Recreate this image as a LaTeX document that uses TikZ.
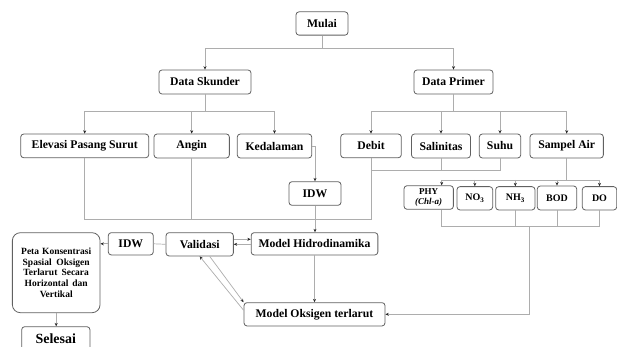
\documentclass[tikz,border=0pt]{standalone}
\usepackage{fontspec}
\setmainfont{Liberation Serif}
\usetikzlibrary{arrows.meta,calc}
\definecolor{boxc}{gray}{0.38}
\definecolor{connc}{gray}{0.68}
\definecolor{tipc}{gray}{0.15}
\begin{document}
\begin{tikzpicture}[x=1pt,y=-1pt,
 box/.style={draw=boxc,line width=0.8pt,rounded corners=3pt,fill=white,inner sep=0pt,
   font=\fontsize{11.7}{13}\selectfont\bfseries,align=center},
 small/.style={box,font=\fontsize{10}{11}\selectfont\bfseries},
 conn/.style={draw=connc,line width=0.7pt},
 arr/.style={-{Stealth[length=3.4pt,width=3pt,color=tipc]}}]
\useasboundingbox (0,0) rectangle (617,347);
\clip (0,0) rectangle (617,347);

% nodes
\node[box,minimum width=52pt,minimum height=23.3pt] (mulai) at (322,23.5) {Mulai};
\node[box,minimum width=92pt,minimum height=24pt] (dsk) at (205,82) {Data Skunder};
\node[box,minimum width=79pt,minimum height=24pt] (dpr) at (453.5,82) {Data Primer};

\node[box,minimum width=128pt,minimum height=23.7pt] (elev) at (84.7,145.9) {Elevasi Pasang Surut};
\node[box,minimum width=75.3pt,minimum height=24pt] (angin) at (191.7,146) {Angin};
\node[box,minimum width=74.4pt,minimum height=24pt] (kedal) at (274.5,146) {Kedalaman};
\node[box,minimum width=60.6pt,minimum height=23.7pt] (debit) at (371,145.9) {Debit};
\node[box,minimum width=59pt,minimum height=24pt] (salin) at (441,146) {Salinitas};
\node[box,minimum width=41.4pt,minimum height=24pt] (suhu) at (500,146) {Suhu};
\node[box,minimum width=73.3pt,minimum height=24pt] (sampel) at (566.7,146) {Sampel Air};

\node[box,minimum width=52pt,minimum height=23.6pt] (idw1) at (315,193.5) {IDW};

\node[small,font=\fontsize{9}{10.5}\selectfont\bfseries,minimum width=49.3pt,minimum height=23.6pt] (phy) at (428.7,197.5) {PHY\\\textit{(Chl-a)}};
\node[small,minimum width=35.7pt,minimum height=23.3pt] (no3) at (474.8,198.3) {NO\textsubscript{3}};
\node[small,minimum width=39.3pt,minimum height=23.3pt] (nh3) at (515.3,198.3) {NH\textsubscript{3}};
\node[small,minimum width=39.4pt,minimum height=24pt] (bod) at (557,198) {BOD};
\node[small,minimum width=34.4pt,minimum height=23.3pt] (do) at (599.5,198.3) {DO};

\node[box,minimum width=126.7pt,minimum height=22.3pt] (mh) at (314.5,243.8) {Model Hidrodinamika};
\node[box,minimum width=67.3pt,minimum height=23.3pt] (val) at (199.7,244.3) {Validasi};
\node[box,minimum width=45pt,minimum height=22.3pt] (idw2) at (130.8,243.8) {IDW};
\node[box,rounded corners=8pt,font=\fontsize{9.5}{10.8}\selectfont\bfseries,
  minimum width=87.7pt,minimum height=80pt] (peta) at (56.2,272.7)
  {\makebox[70pt][s]{Peta Konsentrasi}\\\makebox[67pt][s]{Spasial Oksigen}\\
   \makebox[65.5pt][s]{Terlarut Secara}\\\makebox[63pt][s]{Horizontal dan}\\Vertikal};
\node[box,font=\fontsize{14}{16}\selectfont\bfseries,minimum width=68.3pt,minimum height=24.6pt] (selesai) at (55.8,339) {Selesai};
\node[box,minimum width=141pt,minimum height=23.3pt] (mo) at (314.5,314.3) {Model Oksigen terlarut};

% helper coordinates
\coordinate (h0) at (0,48.3);
\coordinate (h1) at (0,111);
\coordinate (h2) at (0,219.3);
\coordinate (h3) at (0,170.7);
\coordinate (h4) at (0,180);
\coordinate (h5) at (0,226.7);
\coordinate (xphy) at (441.7,0);
\coordinate (xdown) at (529.3,0);
\coordinate (ya) at (0,239.3);
\coordinate (yb) at (0,244.3);

% connectors
\draw[conn] (mulai.south) -- (mulai.south |- h0);
\draw[conn,arr] (mulai.south |- h0) -| (dsk.north);
\draw[conn,arr] (mulai.south |- h0) -| (dpr.north);

\draw[conn] (dsk.south) -- (dsk.south |- h1);
\foreach \n in {elev,angin,kedal} \draw[conn,arr] (dsk.south |- h1) -| (\n.north);
\draw[conn] (dpr.south) -- (dpr.south |- h1);
\foreach \n in {debit,salin,suhu,sampel} \draw[conn,arr] (dpr.south |- h1) -| (\n.north);

\draw[conn,arr] (kedal.east) -| (idw1.north);
\draw[conn,arr] (idw1.south) -- (idw1.south |- mh.north);

\draw[conn] (elev.south) -- (elev.south |- h2) -- (debit.south |- h2) -- (debit.south);
\draw[conn] (angin.south) -- (angin.south |- h2);
\draw[conn] (salin.south) -- (salin.south |- h3);
\draw[conn] (suhu.south) -- (suhu.south |- h3) -- (debit.south |- h3);

\draw[conn] (sampel.south) -- (sampel.south |- h4);
\draw[conn] (xphy |- h4) -- (do.north |- h4);
\draw[conn,arr] (xphy |- h4) -- (xphy |- phy.north);
\foreach \n in {no3,nh3,bod,do} \draw[conn,arr] (\n.north |- h4) -- (\n.north);

\draw[conn] (xphy |- phy.south) -- (xphy |- h5) -- (do.south |- h5) -- (do.south);
\foreach \n in {nh3,bod} \draw[conn] (\n.south) -- (\n.south |- h5);
\draw[conn,arr] (xdown |- h5) -- (xdown |- mo.east) -- (mo.east);

\draw[conn,arr] (val.east |- ya) -- (mh.west |- ya);
\draw[conn,arr] (mh.west |- yb) -- (val.east |- yb);
\draw[conn] (val.west) -- (idw2.east);
\draw[conn,arr] (idw2.west) -- (idw2.west -| peta.east);
\draw[conn,arr] (peta.south) -- (peta.south |- selesai.north);
\draw[conn,arr] (mh.south) -- (mh.south |- mo.north);
\draw[conn,arr] ($(mo.north west)+(0,8)$) -- (val.south);
\draw[conn,arr] ($(val.south)+(10,0)$) -- (mo.north west);
\end{tikzpicture}
\end{document}
